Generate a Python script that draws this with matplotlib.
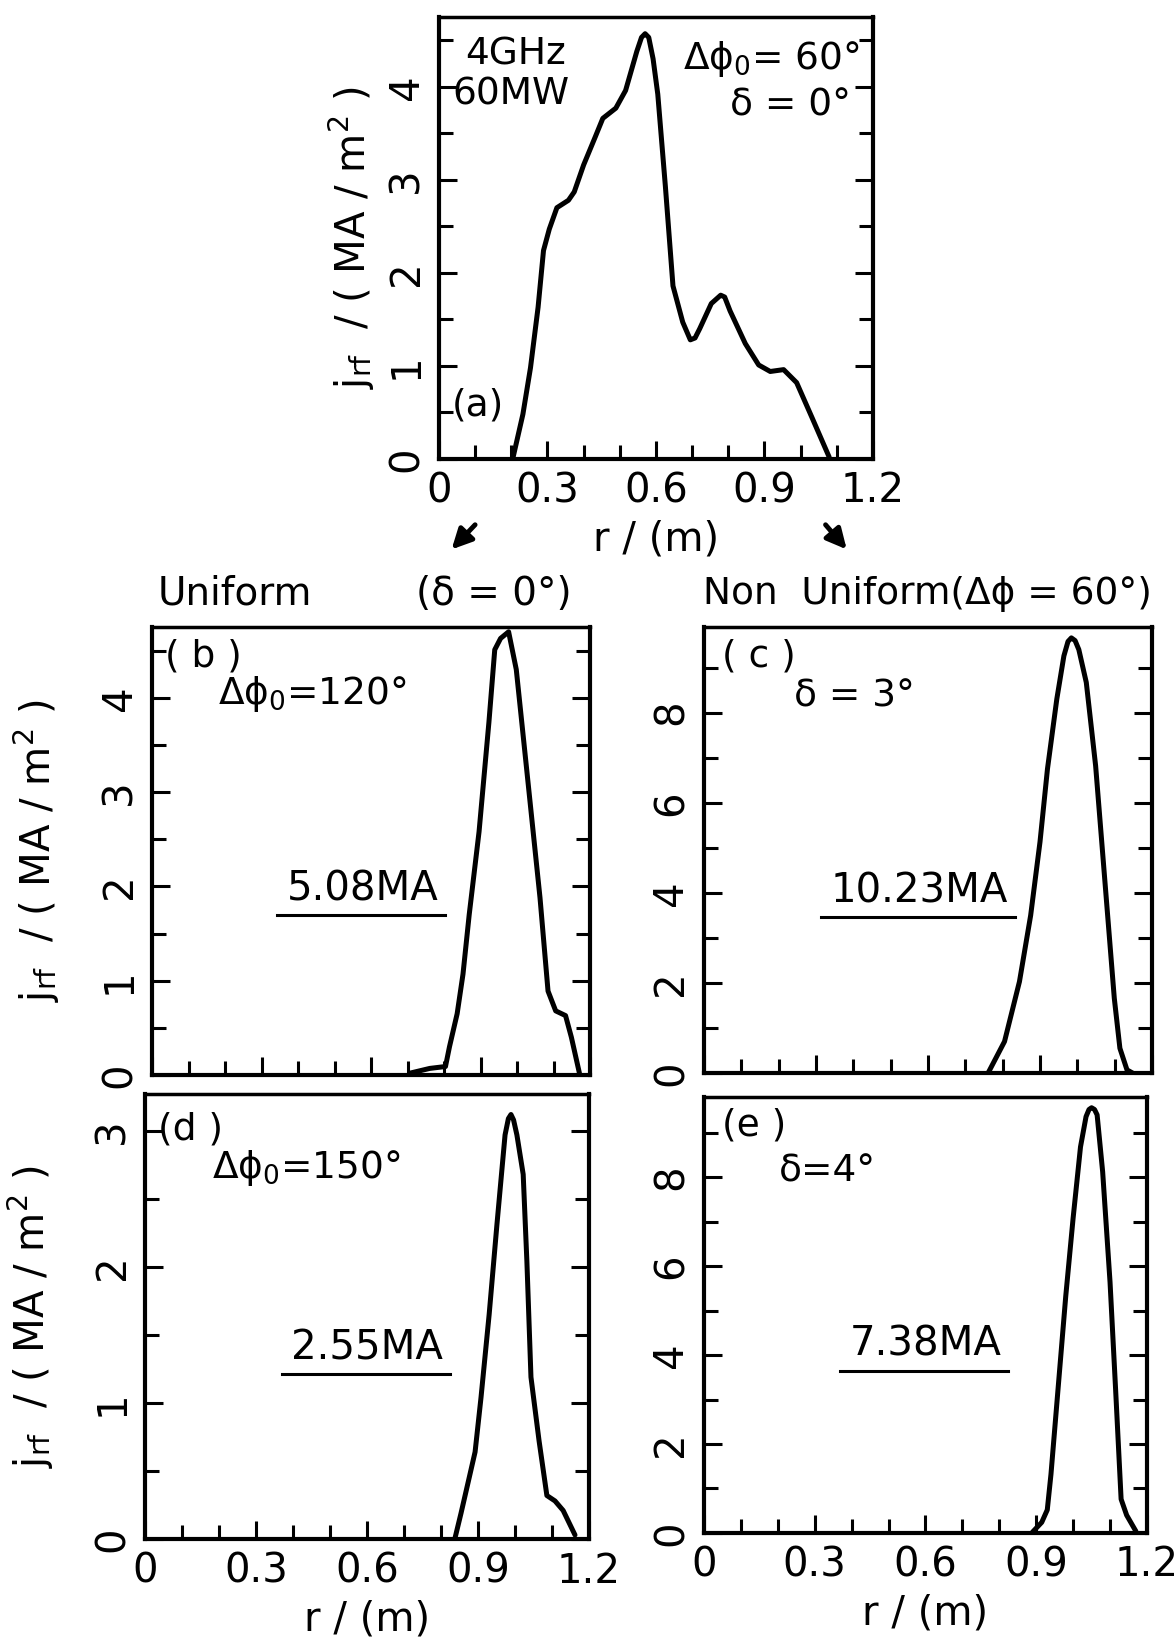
import numpy as np
import matplotlib
matplotlib.use("Agg")
import matplotlib.pyplot as plt
from matplotlib.lines import Line2D
from matplotlib.patches import FancyArrowPatch

plt.rcParams['font.family'] = ['DejaVu Sans']
plt.rcParams['mathtext.fontset'] = 'dejavusans'

# panel (a): 4GHz, 60MW, dphi0 = 60, delta = 0
r_a = [0.205, 0.232, 0.253, 0.274, 0.289, 0.305, 0.326, 0.358, 0.374, 0.40, 0.432, 0.453,
       0.489, 0.516, 0.547, 0.560, 0.570, 0.580, 0.592, 0.605, 0.626, 0.647, 0.674, 0.695,
       0.708, 0.721, 0.753, 0.779, 0.790, 0.805, 0.847, 0.884, 0.916, 0.953, 0.989, 1.032,
       1.079]
j_a = [0.02, 0.48, 0.98, 1.63, 2.24, 2.47, 2.70, 2.78, 2.87, 3.16, 3.46, 3.66,
       3.77, 3.96, 4.38, 4.53, 4.57, 4.53, 4.30, 3.92, 2.93, 1.86, 1.47, 1.28,
       1.30, 1.40, 1.67, 1.76, 1.74, 1.59, 1.24, 1.01, 0.94, 0.96, 0.82, 0.44,
       0.02]

# panel (b): uniform, dphi0 = 120
r_b = [0.707, 0.761, 0.804, 0.815, 0.836, 0.852, 0.869, 0.896, 0.923, 0.939, 0.955, 0.977,
       0.998, 1.03, 1.063, 1.085, 1.106, 1.133, 1.149, 1.171]
j_b = [0.02, 0.07, 0.09, 0.30, 0.65, 1.07, 1.70, 2.58, 3.74, 4.51, 4.63, 4.70,
       4.30, 3.11, 1.88, 0.89, 0.68, 0.63, 0.40, 0.02]

# panel (c): non uniform, delta = 3
r_c = [0.761, 0.805, 0.845, 0.875, 0.900, 0.920, 0.945, 0.964, 0.975, 0.984, 0.994, 1.004,
       1.024, 1.049, 1.074, 1.099, 1.114, 1.133, 1.148]
j_c = [0.0, 0.70, 2.03, 3.50, 5.13, 6.75, 8.30, 9.26, 9.58, 9.66, 9.60, 9.40,
       8.67, 6.82, 4.24, 1.66, 0.55, 0.07, 0.0]

# panel (d): uniform, dphi0 = 150
r_d = [0.838, 0.854, 0.876, 0.892, 0.908, 0.930, 0.951, 0.973, 0.982, 0.989, 0.996, 1.005,
       1.022, 1.032, 1.043, 1.065, 1.086, 1.108, 1.130, 1.162]
j_d = [0.01, 0.19, 0.45, 0.64, 1.04, 1.65, 2.31, 2.97, 3.09, 3.12, 3.08, 2.97,
       2.68, 2.04, 1.19, 0.72, 0.32, 0.28, 0.21, 0.03]

# panel (e): non uniform, delta = 4
r_e = [0.890, 0.915, 0.930, 0.940, 0.960, 0.980, 1.000, 1.020, 1.035, 1.043, 1.050, 1.058,
       1.065, 1.080, 1.100, 1.115, 1.130, 1.145, 1.170]
j_e = [0.02, 0.24, 0.52, 1.32, 3.32, 5.32, 7.08, 8.68, 9.36, 9.52, 9.56, 9.52,
       9.40, 8.12, 5.64, 3.24, 0.76, 0.40, 0.04]

x_ticks = [0, 0.3, 0.6, 0.9, 1.2]
x_ticklabels = ['0', '0.3', '0.6', '0.9', '1.2']
ylabel = r'$\mathrm{j}_{\mathrm{rf}}$  / ( MA / m$^2$ )'
xlabel = 'r / (m)'

FS = 29

fig = plt.figure(figsize=(11.76, 16.45), dpi=100)


def setup(ax, ymax, ymajor, yminor, show_x=True, label_x=None):
    ax.set_xlim(0, 1.2)
    ax.set_ylim(0, ymax)
    for s in ax.spines.values():
        s.set_linewidth(3)
    ax.spines['top'].set_linewidth(2.5)
    ax.set_xticks(x_ticks)
    ax.set_xticks(np.arange(0, 1.21, 0.1), minor=True)
    ax.set_yticks(ymajor)
    ax.set_yticks(yminor, minor=True)
    ax.tick_params(which='both', direction='in', left=True, right=True,
                   top=False, bottom=True, width=2.2)
    ax.tick_params(which='major', length=13, labelsize=FS, pad=9)
    ax.tick_params(which='minor', length=10)
    ax.set_yticklabels([str(v) for v in ymajor], rotation=90, va='center')
    if show_x:
        ax.set_xticklabels(x_ticklabels)
        ax.set_xlabel(xlabel, fontsize=FS, labelpad=6)
    else:
        ax.set_xticklabels([])
    if label_x is not None:
        ax.set_ylabel(ylabel, fontsize=FS)
        ax.yaxis.set_label_coords(label_x, 0.5)


ax_a = fig.add_axes([0.3733, 0.7210, 0.3690, 0.2687])
ax_b = fig.add_axes([0.1293, 0.3465, 0.3724, 0.2723])
ax_c = fig.add_axes([0.5986, 0.3477, 0.3810, 0.2711])
ax_d = fig.add_axes([0.1233, 0.0644, 0.3776, 0.2705])
ax_e = fig.add_axes([0.5986, 0.0681, 0.3767, 0.2650])

setup(ax_a, 4.75, [0, 1, 2, 3, 4], np.arange(0, 4.75, 0.5), label_x=-0.142)
setup(ax_b, 4.75, [0, 1, 2, 3, 4], np.arange(0, 4.75, 0.5), show_x=False, label_x=-0.205)
setup(ax_c, 9.9, [0, 2, 4, 6, 8], np.arange(0, 9.9, 1), show_x=False)
setup(ax_d, 3.27, [0, 1, 2, 3], np.arange(0, 3.27, 0.5), label_x=-0.2)
setup(ax_e, 9.8, [0, 2, 4, 6, 8], np.arange(0, 9.8, 1))

for ax, r, j in [(ax_a, r_a, j_a), (ax_b, r_b, j_b), (ax_c, r_c, j_c),
                 (ax_d, r_d, j_d), (ax_e, r_e, j_e)]:
    ax.plot(r, j, color='black', lw=3.6, solid_joinstyle='round', solid_capstyle='round')

TS = FS - 2
# annotations panel (a)
ax_a.text(0.06, 0.915, '4GHz', transform=ax_a.transAxes, fontsize=TS, va='center')
ax_a.text(0.03, 0.825, '60MW', transform=ax_a.transAxes, fontsize=TS, va='center')
ax_a.text(0.97, 0.905, 'Δϕ$_0$= 60°', transform=ax_a.transAxes, fontsize=TS,
          va='center', ha='right')
ax_a.text(0.95, 0.80, 'δ = 0°', transform=ax_a.transAxes, fontsize=TS,
          va='center', ha='right')
ax_a.text(0.03, 0.12, '(a)', transform=ax_a.transAxes, fontsize=TS, va='center')

ax_b.text(0.03, 0.935, '( b )', transform=ax_b.transAxes, fontsize=TS, va='center')
ax_b.text(0.15, 0.85, 'Δϕ$_0$=120°', transform=ax_b.transAxes, fontsize=TS, va='center')
ax_c.text(0.04, 0.935, '( c )', transform=ax_c.transAxes, fontsize=TS, va='center')
ax_c.text(0.20, 0.845, 'δ = 3°', transform=ax_c.transAxes, fontsize=TS, va='center')
ax_d.text(0.03, 0.92, '(d )', transform=ax_d.transAxes, fontsize=TS, va='center')
ax_d.text(0.15, 0.835, 'Δϕ$_0$=150°', transform=ax_d.transAxes, fontsize=TS, va='center')
ax_e.text(0.04, 0.935, '(e )', transform=ax_e.transAxes, fontsize=TS, va='center')
ax_e.text(0.17, 0.83, 'δ=4°', transform=ax_e.transAxes, fontsize=TS, va='center')

totals = [(ax_b, 0.48, 0.39, '5.08MA'), (ax_c, 0.48, 0.383, '10.23MA'),
          (ax_d, 0.50, 0.404, '2.55MA'), (ax_e, 0.50, 0.406, '7.38MA')]
texts = [(ax, ax.text(x, y, s, transform=ax.transAxes, fontsize=FS, ha='center', va='baseline'))
         for ax, x, y, s in totals]
fig.canvas.draw()
renderer = fig.canvas.get_renderer()
inv = fig.transFigure.inverted()
for ax, t in texts:
    bb = t.get_window_extent(renderer)
    (x0, y0), (x1, y1) = inv.transform([(bb.x0, bb.y0), (bb.x1, bb.y1)])
    base = inv.transform(t.get_transform().transform(t.get_position()))[1]
    fig.add_artist(Line2D([x0 - 0.008, x1 + 0.006], [base - 0.009, base - 0.009],
                          transform=fig.transFigure, color='black', lw=2.2))

# headers
fig.text(0.134, 0.639, 'Uniform', fontsize=FS - 1, va='center')
fig.text(0.486, 0.639, '(δ = 0°)', fontsize=FS - 1, va='center', ha='right')
fig.text(0.598, 0.639, 'Non  Uniform(Δϕ = 60°)', fontsize=FS - 2, va='center')

# arrows
arrow_kw = dict(arrowstyle='-|>', lw=3.5, color='black', mutation_scale=30,
                shrinkA=0, shrinkB=0, transform=fig.transFigure)
fig.add_artist(FancyArrowPatch((0.404, 0.681), (0.384, 0.666), **arrow_kw))
fig.add_artist(FancyArrowPatch((0.702, 0.681), (0.720, 0.666), **arrow_kw))

fig.savefig('out.png', dpi=100)
